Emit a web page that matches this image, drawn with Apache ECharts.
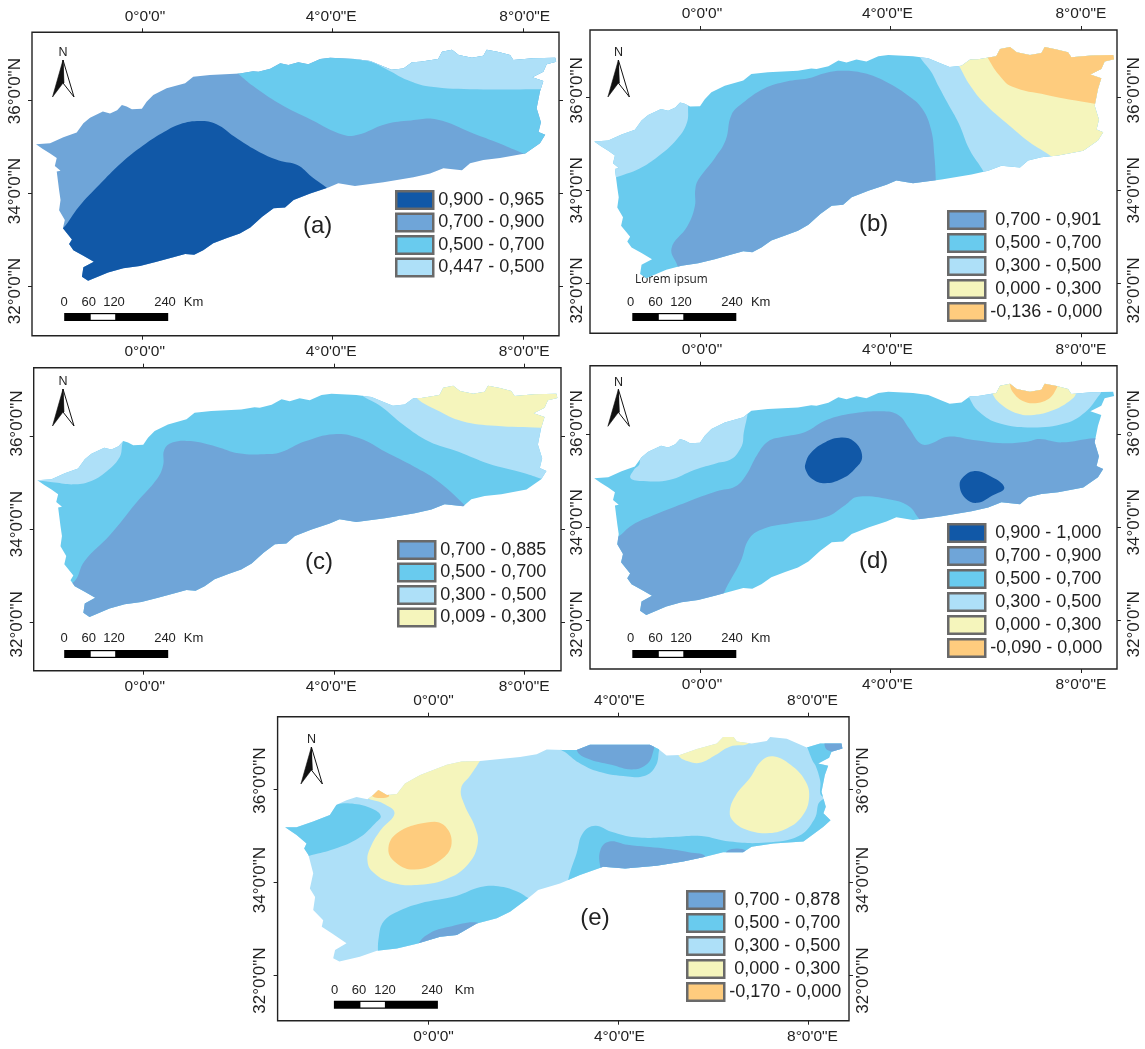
<!DOCTYPE html>
<html><head><meta charset="utf-8">
<style>html,body{margin:0;padding:0;background:#fff}#c{width:1145px;height:1049px}</style>
<script src="https://cdn.jsdelivr.net/npm/echarts@6/dist/echarts.min.js"></script>
</head><body><div id="c"></div>
<script>
// tick values and labels
const lonTicks = [0, 4, 8];
const latTicks = [36, 34, 32];
const lonTickLabels = ['0°0\'0"', '4°0\'0"E', '8°0\'0"E'];
const latTickLabels = ['36°0\'0"N', '34°0\'0"N', '32°0\'0"N'];
const scaleLabels = ['0', '60', '120', '240', 'Km'];

// class colours
const cDark = '#1158a7', cBlue = '#6fa5d8', cCyan = '#69cbee', cLight = '#aee0f8', cYellow = '#f5f5bc', cOrange = '#fecc7e';

// basin outline [lon, lat], panels a-d
const outlineAD = [[-2.235,35.05],[-1.94,35.07],[-1.66,35.20],[-1.38,35.30],[-1.24,35.50],[-1.10,35.62],[-0.83,35.75],[-0.68,35.71],[-0.53,35.78],[-0.43,35.89],[-0.33,35.86],[-0.22,35.80],[-0.01,35.81],[0.09,35.96],[0.23,36.11],[0.51,36.25],[0.90,36.36],[1.07,36.50],[1.42,36.54],[1.84,36.56],[2.05,36.57],[2.33,36.62],[2.44,36.61],[2.69,36.67],[2.90,36.79],[3.07,36.75],[3.28,36.81],[3.49,36.77],[3.74,36.88],[3.95,36.91],[4.47,36.88],[4.79,36.84],[5.07,36.72],[5.24,36.65],[5.49,36.68],[5.67,36.81],[5.84,36.82],[6.22,36.88],[6.30,37.04],[6.51,37.08],[6.65,36.97],[6.93,36.91],[7.17,36.95],[7.24,37.08],[7.49,37.03],[7.73,36.97],[7.80,36.86],[8.22,36.90],[8.68,36.91],[8.70,36.82],[8.50,36.77],[8.43,36.61],[8.20,36.49],[8.43,36.41],[8.36,36.18],[8.29,35.82],[8.38,35.52],[8.33,35.31],[8.47,35.25],[8.36,35.07],[8.05,34.85],[7.52,34.75],[7.17,34.71],[6.89,34.64],[6.72,34.49],[6.33,34.53],[6.05,34.42],[5.70,34.34],[5.07,34.23],[4.47,34.15],[4.12,34.21],[3.91,34.12],[3.53,33.99],[3.18,33.85],[3.0,33.69],[2.76,33.67],[2.52,33.49],[2.27,33.26],[2.05,33.13],[1.78,33.03],[1.49,32.92],[1.28,32.77],[1.09,32.67],[0.90,32.69],[0.65,32.62],[0.30,32.52],[-0.05,32.43],[-0.40,32.38],[-0.72,32.29],[-1.14,32.11],[-1.27,32.20],[-1.24,32.40],[-1.02,32.52],[-1.24,32.65],[-1.45,32.77],[-1.54,32.90],[-1.48,33.0],[-1.67,33.24],[-1.63,33.42],[-1.75,33.63],[-1.72,33.85],[-1.75,34.06],[-1.80,34.46],[-1.72,34.48],[-1.84,34.58],[-1.80,34.75],[-1.94,34.85],[-2.1,34.95]];
// basin outline, panel e
const outlineE = [[-3.0,35.18],[-2.76,35.18],[-2.41,35.30],[-2.06,35.44],[-1.92,35.66],[-1.71,35.76],[-1.50,35.83],[-1.27,35.78],[-1.15,35.87],[-1.04,35.98],[-0.86,35.87],[-0.65,35.89],[-0.48,36.12],[-0.16,36.30],[0.40,36.52],[0.71,36.59],[1.10,36.60],[1.94,36.69],[2.29,36.75],[2.50,36.85],[2.85,36.84],[3.13,36.84],[3.41,36.95],[4.67,36.95],[4.85,36.86],[5.02,36.72],[5.30,36.73],[5.66,36.86],[6.08,36.98],[6.21,37.12],[6.43,37.12],[6.50,37.02],[6.81,36.98],[7.13,37.03],[7.20,37.12],[7.55,37.08],[7.97,36.89],[8.25,36.98],[8.70,36.98],[8.72,36.87],[8.49,36.80],[8.44,36.67],[8.21,36.55],[8.42,36.50],[8.35,36.30],[8.28,35.94],[8.37,35.62],[8.32,35.48],[8.47,35.33],[8.32,35.19],[7.90,34.87],[7.27,34.83],[6.81,34.76],[6.63,34.64],[6.21,34.64],[5.79,34.53],[5.37,34.44],[4.81,34.35],[4.15,34.29],[3.69,34.33],[3.20,34.15],[2.78,33.97],[2.32,33.83],[2.11,33.65],[1.73,33.36],[1.45,33.22],[1.03,33.11],[0.61,32.86],[0.26,32.82],[-0.23,32.67],[-0.65,32.57],[-1.07,32.52],[-1.43,32.39],[-1.86,32.29],[-1.99,32.36],[-1.95,32.54],[-1.71,32.68],[-2.02,32.90],[-2.23,33.04],[-2.20,33.18],[-2.41,33.40],[-2.37,33.68],[-2.48,33.86],[-2.41,34.19],[-2.51,34.58],[-2.60,34.72],[-2.55,34.83],[-2.76,35.01]];

// panel a zones
const aCyan = [[[1.94,36.63],[2.02,36.56],[2.33,36.30],[2.87,35.93],[3.56,35.57],[4.22,35.25],[4.53,35.25],[5.11,35.48],[5.65,35.56],[6.19,35.58],[6.96,35.28],[7.5,35.07],[8.04,34.84],[8.58,34.64],[9.2,34.5],[9.2,37.3],[2.0,37.3]]];
const aLight = [[[4.41,36.93],[4.80,36.82],[5.19,36.63],[5.57,36.43],[6.03,36.29],[7.04,36.23],[8.43,36.23],[9.0,36.23],[9.0,37.3],[4.41,37.3]]];
const aDark = [[[-1.67,33.24],[-1.33,33.71],[-0.91,34.17],[-0.45,34.64],[0.015,35.02],[0.40,35.28],[0.79,35.48],[1.21,35.55],[1.56,35.48],[1.94,35.21],[2.41,34.91],[2.87,34.70],[3.26,34.60],[3.56,34.35],[3.89,34.10],[4.41,33.63],[3.18,31.7],[-1.84,31.7],[-1.99,32.99]]];

// panel b zones
const bLight = [
  [[4.51,37.16],[4.62,36.86],[4.85,36.55],[5.01,36.23],[5.20,35.87],[5.43,35.44],[5.66,34.87],[5.96,34.39],[6.13,34.01],[9.2,34.0],[9.2,37.4]],
  [[-0.26,36.09],[-0.26,35.80],[-0.29,35.44],[-0.51,35.08],[-0.90,34.72],[-1.28,34.47],[-1.74,34.29],[-2.28,34.08],[-2.6,34.0],[-2.6,36.1]]
];
const bBlue = [[[-0.61,32.75],[-0.28,33.22],[-0.12,33.65],[-0.11,34.01],[-0.05,34.22],[0.30,34.69],[0.53,35.08],[0.65,35.62],[0.88,35.87],[1.34,36.19],[1.81,36.34],[2.27,36.41],[2.65,36.53],[3.00,36.57],[3.43,36.52],[3.89,36.34],[4.35,36.05],[4.66,35.76],[4.85,35.30],[4.92,34.72],[4.95,34.19],[4.97,33.5],[2.65,31.6],[-0.43,31.6],[-0.47,32.32]]];
const bYellow = [[[5.35,36.87],[5.47,36.62],[5.66,36.27],[5.97,35.87],[6.44,35.44],[6.90,35.05],[7.40,34.71],[7.82,34.29],[9.2,34.3],[9.2,37.4],[5.35,37.4]]];
const bOrange = [[[5.90,37.16],[6.06,36.82],[6.28,36.48],[6.55,36.23],[7.28,36.05],[8.29,35.86],[9.2,35.7],[9.2,37.4],[5.9,37.4]]];

// panel c zones
const cLightZ = [
  [[4.38,37.10],[4.58,36.88],[5.0,36.63],[5.46,36.24],[6.0,35.88],[6.62,35.66],[7.24,35.41],[8.01,35.20],[8.36,35.08],[9.2,34.8],[9.2,37.4],[4.38,37.4]],
  [[-0.48,36.02],[-0.46,35.77],[-0.52,35.52],[-0.79,35.23],[-1.13,35.02],[-1.48,34.96],[-1.87,35.0],[-2.21,35.03],[-2.6,35.0],[-2.6,36.1]]
];
const cYellowZ = [[[5.62,37.10],[5.75,36.81],[6.16,36.56],[6.70,36.32],[7.39,36.22],[8.36,36.18],[9.2,36.18],[9.2,37.4],[5.62,37.4]]];
const cBlueZ = [[[-1.46,32.87],[-1.25,33.30],[-0.71,33.87],[-0.17,34.55],[0.29,35.09],[0.41,35.38],[0.43,35.70],[0.60,35.86],[0.99,35.89],[1.53,35.77],[1.99,35.63],[2.53,35.61],[2.88,35.65],[3.38,35.88],[4.0,36.04],[4.54,35.95],[5.08,35.66],[5.69,35.34],[6.16,35.05],[6.74,34.52],[7.0,34.16],[4.69,31.7],[-1.48,31.7],[-1.79,32.72]]];

// panel d zones
const dBlue = [[[-1.74,33.79],[-1.44,34.04],[-0.90,34.29],[-0.28,34.54],[0.34,34.77],[0.73,34.87],[0.96,35.12],[1.19,35.55],[1.42,35.84],[1.73,35.94],[2.19,36.04],[2.65,36.30],[3.19,36.44],[3.81,36.49],[4.16,36.41],[4.39,36.12],[4.62,35.80],[4.81,35.78],[5.20,35.94],[5.74,35.87],[6.36,35.80],[6.90,35.84],[7.13,35.89],[7.59,35.82],[8.29,35.91],[9.3,35.9],[9.3,33.9],[5.74,33.54],[4.66,34.11],[4.58,34.20],[4.39,34.44],[4.04,34.58],[3.31,34.65],[3.04,34.47],[2.65,34.22],[1.88,34.08],[1.34,33.97],[1.03,33.76],[0.84,33.25],[0.49,32.57],[0.34,32.04],[-0.43,31.3],[-1.98,31.3],[-2.28,33.54]]];
const dDark = [
  [[2.21,35.37],[2.31,35.58],[2.58,35.80],[2.92,35.92],[3.23,35.84],[3.40,35.51],[3.23,35.23],[2.96,35.03],[2.62,34.94],[2.35,35.03],[2.21,35.23]],
  [[5.45,34.90],[5.53,35.08],[5.74,35.20],[6.05,35.12],[6.39,34.85],[6.13,34.67],[5.82,34.52],[5.57,34.62]]
];
const dLight = [
  [[0.88,36.69],[0.90,35.91],[0.84,35.69],[0.65,35.46],[0.34,35.37],[-0.12,35.23],[-0.66,35.01],[-1.20,34.99],[-1.47,35.05],[-1.40,35.23],[-1.28,35.37],[-1.28,35.98],[-1.28,36.70]],
  [[5.59,37.05],[5.66,36.77],[5.86,36.48],[6.28,36.23],[6.98,36.14],[7.67,36.23],[8.09,36.47],[8.36,36.80],[8.45,36.97],[8.45,37.2],[5.59,37.27]]
];
const dYellow = [[[6.05,37.2],[6.14,36.87],[6.32,36.64],[6.67,36.44],[7.01,36.41],[7.44,36.52],[7.79,36.73],[7.90,36.87],[7.98,37.2]]];
const dOrange = [[[6.51,37.05],[6.59,36.87],[6.78,36.71],[7.01,36.66],[7.28,36.73],[7.45,36.91],[7.49,37.13],[6.51,37.27]]];

// panel e zones
const eYellow = [
  [[1.20,36.77],[1.10,36.61],[0.90,36.30],[0.70,36.01],[0.77,35.66],[0.99,35.19],[1.05,34.83],[0.86,34.40],[0.43,34.08],[-0.17,33.94],[-0.77,33.99],[-1.16,34.22],[-1.27,34.47],[-1.20,34.76],[-0.99,35.12],[-0.70,35.48],[-0.94,35.69],[-1.29,35.82],[-1.37,36.05],[0.34,36.91]],
  [[5.27,36.73],[5.49,36.59],[5.75,36.57],[6.05,36.73],[6.35,36.91],[6.77,37.0],[6.77,37.34],[5.27,37.05]],
  [[6.35,35.51],[6.48,35.87],[6.77,36.23],[7.03,36.62],[7.29,36.70],[7.63,36.52],[7.93,36.19],[8.02,35.84],[7.89,35.44],[7.55,35.15],[7.12,35.05],[6.69,35.13],[6.43,35.30]]
];
const eOrange = [
  [[-0.83,34.69],[-0.65,35.05],[-0.02,35.28],[0.33,35.23],[0.50,34.83],[0.26,34.47],[-0.27,34.27],[-0.65,34.40]],
  [[-1.16,35.84],[-1.07,36.02],[-0.95,36.02],[-0.82,35.84]]
];
const eCyan = [
  [[-2.44,34.58],[-1.97,34.71],[-1.46,34.94],[-1.11,35.26],[-0.99,35.42],[-1.18,35.58],[-1.54,35.68],[-1.93,35.66],[-2.23,35.48],[-3.09,35.4],[-3.43,35.05],[-3.09,34.40]],
  [[2.74,36.91],[2.92,36.77],[3.17,36.57],[3.60,36.37],[4.20,36.27],[4.55,36.28],[4.76,36.44],[4.85,36.73],[4.80,37.05],[2.74,37.2]],
  [[2.96,34.08],[3.13,34.62],[3.26,35.05],[3.52,35.21],[3.86,35.08],[4.37,34.96],[5.15,34.97],[5.75,34.99],[6.35,34.87],[7.12,34.85],[7.80,34.99],[8.13,35.35],[8.28,35.76],[8.92,35.84],[8.92,34.55],[4.63,33.68],[2.92,33.68]],
  [[-1.05,32.39],[-1.03,32.82],[-0.93,33.15],[-0.64,33.36],[-0.17,33.54],[0.60,33.70],[1.11,33.89],[1.54,33.90],[1.89,33.79],[2.12,33.65],[2.57,33.40],[1.2,31.7],[-1.05,31.7]],
  [[7.93,37.05],[7.99,36.87],[8.10,36.59],[8.16,36.49],[8.25,36.19],[8.30,35.84],[8.92,35.84],[8.92,37.05]]
];
const eBlue = [
  [[3.13,36.84],[3.34,36.66],[3.86,36.52],[4.29,36.42],[4.59,36.52],[4.73,36.77],[4.72,37.05],[3.17,37.13]],
  [[3.63,34.31],[3.63,34.69],[3.82,34.87],[4.20,34.80],[4.97,34.72],[5.49,34.64],[5.83,34.54],[5.49,34.1],[3.77,33.7]],
  [[-0.20,32.67],[0.04,32.90],[0.43,33.03],[1.03,33.13],[1.11,32.97],[0.51,32.54],[-0.26,32.39]],
  [[8.38,37.05],[8.40,36.84],[8.92,36.8],[8.92,37.05]],
  [[6.30,34.67],[6.69,34.67],[6.6,34.4],[6.3,34.4]]
];

// legend class names
const aClasses = ['0,900 - 0,965', '0,700 - 0,900', '0,500 - 0,700', '0,447 - 0,500'];
const bClasses = ['0,700 - 0,901', '0,500 - 0,700', '0,300 - 0,500', '0,000 - 0,300', '-0,136 - 0,000'];
const cClasses = ['0,700 - 0,885', '0,500 - 0,700', '0,300 - 0,500', '0,009 - 0,300'];
const dClasses = ['0,900 - 1,000', '0,700 - 0,900', '0,500 - 0,700', '0,300 - 0,500', '0,000 - 0,300', '-0,090 - 0,000'];
const eClasses = ['0,700 - 0,878', '0,500 - 0,700', '0,300 - 0,500', '0,000 - 0,300', '-0,170 - 0,000'];

// layout of the five panels
const panels = [
 {tag:'(a)', L:32, R:559, T:32.3, B:335.7, lon:[-2.32,8.76], lat:[30.93,37.456], outline:outlineAD,
  xl:[0.055,3.97,8.04], yl:[36.19,34.04,31.89], top:1,bottom:0,left:1,right:0, ml:8, mr:9,
  layers:[[aClasses[1],cBlue,[outlineAD],0],[aClasses[2],cCyan,aCyan,1],[aClasses[3],cLight,aLight,1],[aClasses[0],cDark,aDark,1]],
  legend:[aClasses,395,190,false,2.5], tagXY:[317.6,226.7], arrow:[63,60], bar:[64.2,313], lab:[64,88.7,114,165,193.6], labY:302},
 {tag:'(b)', L:590, R:1117, T:30, B:333.3, lon:[-2.324,8.76], lat:[30.925,37.447], outline:outlineAD,
  xl:[0.03,3.93,8.0], yl:[36.15,34.0,31.845], top:1,bottom:0,left:1,right:1, ml:4, mr:9,
  layers:[[bClasses[1],cCyan,[outlineAD],0],[bClasses[2],cLight,bLight,1],[bClasses[0],cBlue,bBlue,1],[bClasses[3],cYellow,bYellow,1],[bClasses[4],cOrange,bOrange,1]],
  legend:[bClasses,947,210,true,3], tagXY:[873.6,224], arrow:[618.4,60], bar:[632.3,313], lab:[630.5,655.4,681,732,760.7], labY:302},
 {tag:'(c)', L:33.7, R:561, T:367.7, B:670.7, lon:[-2.314,8.776], lat:[30.953,37.469], outline:outlineAD,
  xl:[0.02,3.94,8.0], yl:[36.27,34.105,31.95], top:1,bottom:1,left:1,right:0, ml:8, mr:9,
  layers:[[cClasses[1],cCyan,[outlineAD],0],[cClasses[2],cLight,cLightZ,1],[cClasses[3],cYellow,cYellowZ,1],[cClasses[0],cBlue,cBlueZ,1]],
  legend:[cClasses,397,540,false,2.5], tagXY:[319,562], arrow:[63,389], bar:[64.2,650], lab:[64,88.7,114,165,193.6], labY:638},
 {tag:'(d)', L:590, R:1117, T:365.7, B:669, lon:[-2.324,8.76], lat:[30.946,37.469], outline:outlineAD,
  xl:[0.03,3.93,8.0], yl:[36.23,34.1,31.905], top:1,bottom:1,left:1,right:1, ml:4, mr:9,
  layers:[[dClasses[2],cCyan,[outlineAD],0],[dClasses[1],cBlue,dBlue,1],[dClasses[0],cDark,dDark,1],[dClasses[3],cLight,dLight,1],[dClasses[4],cYellow,dYellow,1],[dClasses[5],cOrange,dOrange,1]],
  legend:[dClasses,947,523,true,3], tagXY:[873.6,561.7], arrow:[618.4,389.3], bar:[632.3,650], lab:[630.5,655.4,681,732,760.7], labY:638},
 {tag:'(e)', L:277.6, R:849, T:716.7, B:1020.7, lon:[-3.159,8.858], lat:[31.017,37.555], outline:outlineE,
  xl:[0.12,4.03,8.09], yl:[36.18,34.04,31.88], top:1,bottom:1,left:1,right:1, ml:9, mr:6,
  layers:[[eClasses[2],cLight,[outlineE],0],[eClasses[3],cYellow,eYellow,1],[eClasses[4],cOrange,eOrange,1],[eClasses[1],cCyan,eCyan,1],[eClasses[0],cBlue,eBlue,1]],
  legend:[eClasses,686,890,true,3], tagXY:[595,918], arrow:[311.4,747], bar:[333.9,1000.7], lab:[334.7,359,385,432,464.5], labY:990.7}
];

const font = '"Liberation Sans", Arial, sans-serif';
const grid = [], xAxis = [], yAxis = [], series = [], legend = [], graphic = [];

function lonAxis(p, i, pos, show) {
  return {type:'value', gridIndex:i, position:pos, min:p.lon[0], max:p.lon[1],
    axisLine:{show:false, onZero:false}, splitLine:{show:false},
    axisTick:{show:true, customValues:lonTicks, length:4, lineStyle:{color:'#222', width:1}},
    axisLabel:{show:!!show, customValues:p.xl, margin:8, color:'#222', fontFamily:font, fontSize:15.5,
      formatter:v => lonTickLabels[p.xl.indexOf(v)]}};
}
function latAxis(p, i, pos, show) {
  return {type:'value', gridIndex:i, position:pos, min:p.lat[0], max:p.lat[1],
    axisLine:{show:false, onZero:false}, splitLine:{show:false},
    axisTick:{show:true, customValues:latTicks, length:4, lineStyle:{color:'#222', width:1}},
    axisLabel:{show:!!show, customValues:p.yl, rotate:90, margin:pos === 'left' ? p.ml : p.mr, color:'#222', fontFamily:font, fontSize:17,
      formatter:v => latTickLabels[p.yl.indexOf(v)]}};
}

panels.forEach((p, i) => {
  grid.push({left:p.L, top:p.T, width:p.R-p.L, height:p.B-p.T, show:true, borderColor:'#222', borderWidth:1.4, backgroundColor:'#fff'});
  xAxis.push(lonAxis(p, i, 'top', p.top), lonAxis(p, i, 'bottom', p.bottom));
  yAxis.push(latAxis(p, i, 'left', p.left), latAxis(p, i, 'right', p.right));
  p.layers.forEach(([name, color, rings, clip]) => {
    series.push({
      type:'custom', name, coordinateSystem:'cartesian2d',
      xAxisIndex:i*2, yAxisIndex:i*2, silent:true, animation:false, clip:false,
      itemStyle:{color}, encode:{x:0, y:1},
      data:rings.map(r => r[0]),
      renderItem:(params, api) => {
        const pts = rings[params.dataIndex].map(q => api.coord(q));
        const el = {type:'polygon', shape:{points:pts, smooth:clip ? 0.42 : 0}, style:{fill:color}};
        if (clip) el.clipPath = {type:'polygon', shape:{points:p.outline.map(q => api.coord(q))}};
        return el;
      }
    });
  });
  const [names, lx, ly, pad, gap] = p.legend;
  legend.push({
    orient:'vertical', left:lx, top:ly, padding:0, itemWidth:37, itemHeight:17.5, itemGap:gap,
    selectedMode:false, icon:'rect', data:names,
    itemStyle:{borderColor:'#696969', borderWidth:2.5},
    textStyle:{fontFamily:font, fontSize:18, color:'#222'},
    formatter:n => (pad && n[0] !== '-') ? ' ' + n : n
  });

  // panel letter
  graphic.push({type:'text', x:p.tagXY[0], y:p.tagXY[1], style:{text:p.tag, fill:'#222', font:'24px '+font, align:'center', verticalAlign:'middle'}});
  // north arrow
  const [ax, ay] = p.arrow;
  graphic.push({type:'polygon', shape:{points:[[ax,ay],[ax+11,ay+37],[ax,ay+23]]}, style:{fill:'#fff', stroke:'#111', lineWidth:1}});
  graphic.push({type:'polygon', shape:{points:[[ax,ay],[ax-10.5,ay+37],[ax,ay+23],[ax+1,ay+23]]}, style:{fill:'#111', stroke:'#111', lineWidth:0.6}});
  graphic.push({type:'text', x:ax, y:ay-7, style:{text:'N', fill:'#222', font:'12.5px '+font, align:'center', verticalAlign:'middle'}});
  // scale bar
  const [bx, by] = p.bar;
  graphic.push({type:'rect', shape:{x:bx, y:by, width:104, height:8}, style:{fill:'#000'}});
  graphic.push({type:'rect', shape:{x:bx+26.5, y:by+1.2, width:24.5, height:5.6}, style:{fill:'#fff'}});
  scaleLabels.forEach((t, k) => graphic.push({type:'text', x:p.lab[k], y:p.labY,
    style:{text:t, fill:'#222', font:'13px '+font, align:'center', verticalAlign:'middle'}}));
});
graphic.push({type:'text', x:635, y:280, style:{text:'Lorem ipsum', fill:'#222', font:'11.8px "Open Sans", sans-serif', verticalAlign:'middle'}});

const chart = echarts.init(document.getElementById('c'), null, {renderer:'canvas'});
chart.setOption({animation:false, backgroundColor:'#fff', grid, xAxis, yAxis, series, legend, graphic});
</script></body></html>
